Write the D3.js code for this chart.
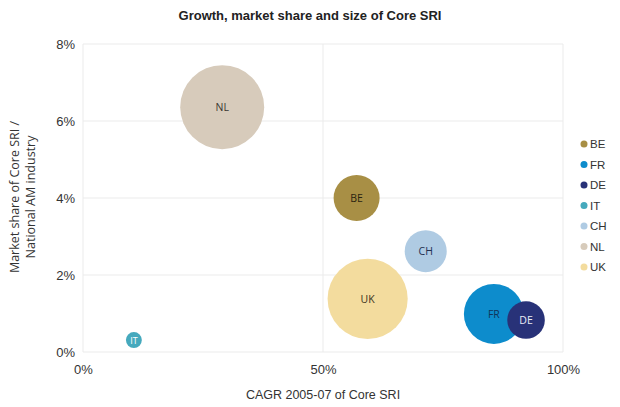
<!DOCTYPE html>
<html><head><meta charset="utf-8">
<script src="https://cdn.jsdelivr.net/npm/d3@7"></script>
<style>body{margin:0;background:#fff}svg{display:block}</style>
</head><body><svg id="c" width="620" height="407"></svg>
<script>
const countries = ["BE","FR","DE","IT","CH","NL","UK"];
const cagr      = [0.57, 0.856, 0.923, 0.106, 0.714, 0.29, 0.593];
const share     = [0.040, 0.0099, 0.0083, 0.0031, 0.0262, 0.0636, 0.0138];
const sizes     = [30, 51, 20, 3.6, 25, 100, 91];
const colors    = ["#a88f45","#0d8ccc","#283278","#45a9bd","#afcbe3","#d7cbbb","#f3dc9e"];
const labelColors = ["#2a2410","#10355a","#e8ecf7","#ffffff","#223050","#3a3530","#3a3220"];
const xTicks = [0, 0.5, 1];
const yTicks = [0, 0.02, 0.04, 0.06, 0.08];

const svg = d3.select("#c");
const x = d3.scaleLinear().domain([0,1]).range([83,563]);
const y = d3.scaleLinear().domain([0,0.08]).range([352,44]);
const r = d3.scaleSqrt().domain([0,100]).range([0,42]);

svg.append("text").attr("x",310).attr("y",20).attr("text-anchor","middle")
  .attr("font-family","Liberation Sans, Arial, sans-serif").attr("font-weight","bold")
  .attr("font-size",13).attr("fill","#222").text("Growth, market share and size of Core SRI");

// grid
const g = svg.append("g");
g.selectAll("line.h").data(yTicks).join("line")
  .attr("x1",x(0)).attr("x2",x(1)).attr("y1",d=>y(d)).attr("y2",d=>y(d))
  .attr("stroke","#ebebeb").attr("stroke-width",1);
g.selectAll("line.v").data(xTicks).join("line")
  .attr("y1",y(0)).attr("y2",y(0.08)).attr("x1",d=>x(d)).attr("x2",d=>x(d))
  .attr("stroke","#ebebeb").attr("stroke-width",1);

const fmt = d3.format(".0%");
svg.append("g").attr("transform",`translate(${x(0)},0)`)
  .call(d3.axisLeft(y).tickValues(yTicks).tickFormat(fmt).tickSize(0).tickPadding(8))
  .call(a=>a.select(".domain").remove())
  .call(a=>a.selectAll("text").attr("font-family","Liberation Sans, Arial, sans-serif").attr("font-size",13).attr("fill","#333"));
svg.append("g").attr("transform",`translate(0,${y(0)})`)
  .call(d3.axisBottom(x).tickValues(xTicks).tickFormat(fmt).tickSize(0).tickPadding(13))
  .call(a=>a.select(".domain").remove())
  .call(a=>a.selectAll("text").attr("font-family","Liberation Sans, Arial, sans-serif").attr("font-size",13).attr("fill","#333"));

svg.append("text").attr("x",323).attr("y",399).attr("text-anchor","middle")
  .attr("font-family","Liberation Sans, Arial, sans-serif").attr("font-size",12.5).attr("fill","#333")
  .text("CAGR 2005-07 of Core SRI");
const yl = svg.append("text").attr("transform","translate(19,197) rotate(-90)").attr("text-anchor","middle")
  .attr("font-family","Open Sans, sans-serif").attr("font-size",12.5).attr("fill","#333");
yl.append("tspan").attr("x",0).attr("dy",0).text("Market share of Core SRI /");
yl.append("tspan").attr("x",0).attr("dy",16).text("National AM industry");

const data = countries.map((c,i)=>({c, x:cagr[i], y:share[i], s:sizes[i], col:colors[i], lc:labelColors[i]}));
const order = ["NL","UK","BE","CH","IT","FR","DE"];
const drawn = order.map(c=>data.find(d=>d.c===c));
const b = svg.append("g");
b.selectAll("circle").data(drawn).join("circle")
  .attr("cx",d=>x(d.x)).attr("cy",d=>y(d.y)).attr("r",d=>r(d.s)).attr("fill",d=>d.col);
b.selectAll("text").data(drawn).join("text")
  .attr("x",d=>x(d.x)).attr("y",d=>y(d.y)+4).attr("text-anchor","middle")
  .attr("font-family","Open Sans, sans-serif").attr("font-size",d=>d.c==="IT"?9:10.5)
  .attr("fill",d=>d.lc).text(d=>d.c);

// legend
const lg = svg.append("g");
const ly = d3.scalePoint().domain(countries).range([144,267]);
lg.selectAll("circle").data(data).join("circle")
  .attr("cx",584).attr("cy",d=>ly(d.c)).attr("r",3.5).attr("fill",d=>d.col);
lg.selectAll("text").data(data).join("text")
  .attr("x",590).attr("y",d=>ly(d.c)+4).attr("font-family","Liberation Sans, Arial, sans-serif")
  .attr("font-size",11.5).attr("fill","#333").text(d=>d.c);
</script></body></html>
